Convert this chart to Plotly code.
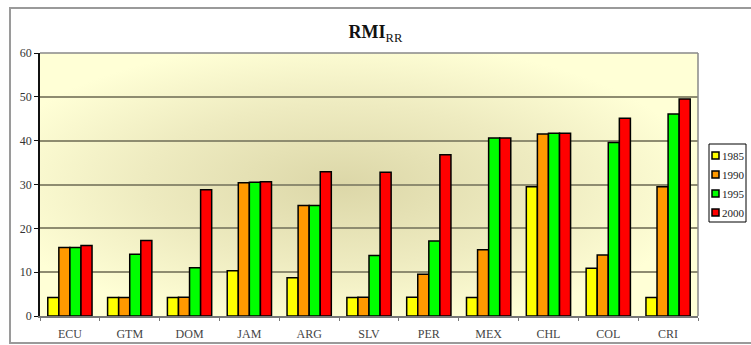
import base64
import plotly.graph_objects as go

# Country codes along the category axis
countries = ["ECU", "GTM", "DOM", "JAM", "ARG", "SLV", "PER", "MEX", "CHL", "COL", "CRI"]

# RMI_RR index by year
rmi_1985 = [4.2, 4.2, 4.2, 10.3, 8.7, 4.2, 4.3, 4.2, 29.5, 10.9, 4.2]
rmi_1990 = [15.6, 4.2, 4.3, 30.4, 25.2, 4.3, 9.5, 15.1, 41.5, 13.9, 29.5]
rmi_1995 = [15.6, 14.1, 11.0, 30.5, 25.2, 13.8, 17.1, 40.6, 41.7, 39.6, 46.1]
rmi_2000 = [16.1, 17.2, 28.8, 30.6, 32.9, 32.8, 36.8, 40.6, 41.7, 45.1, 49.5]

years = ["1985", "1990", "1995", "2000"]
colors = ["#FFFF00", "#FF9900", "#00FF00", "#FF0000"]
series = [rmi_1985, rmi_1990, rmi_1995, rmi_2000]

y_ticks = [0, 10, 20, 30, 40, 50, 60]

serif = "Liberation Serif, Times New Roman, serif"

W, H = 751, 345
L, R, T, B = 40, 53, 53, 29
PW, PH = W - L - R, H - T - B


def px(x):
    """Pixel column -> paper x."""
    return (x - L) / PW


def py(y):
    """Pixel row -> paper y."""
    return (H - B - y) / PH


fig = go.Figure()
for name, vals, col in zip(years, series, colors):
    fig.add_trace(go.Bar(
        x=countries, y=vals, name=name, showlegend=False,
        marker=dict(color=col, line=dict(color="#000000", width=1.5)),
    ))

# Soft radial shading behind the plot area
svg = (
    '<svg xmlns="http://www.w3.org/2000/svg" width="658" height="263" '
    'viewBox="0 0 658 263" preserveAspectRatio="none">'
    '<defs><radialGradient id="g" cx="0.46" cy="0.5" r="0.55">'
    '<stop offset="0" stop-color="#DCD7A8"/>'
    '<stop offset="0.55" stop-color="#EEEBC0"/>'
    '<stop offset="1" stop-color="#FFFFD6"/>'
    '</radialGradient></defs>'
    '<rect width="658" height="263" fill="url(#g)"/></svg>'
)
src = "data:image/svg+xml;base64," + base64.b64encode(svg.encode()).decode()

shapes = [
    # plot area frame (top and right)
    dict(type="line", xref="paper", yref="paper", x0=0, x1=1, y0=1, y1=1,
         line=dict(color="#888888", width=1.5)),
    dict(type="line", xref="paper", yref="paper", x0=1, x1=1, y0=0, y1=1,
         line=dict(color="#888888", width=1.5)),
    # outer chart frame
    dict(type="rect", xref="paper", yref="paper",
         x0=px(10), x1=px(800), y0=py(343), y1=py(8),
         line=dict(color="#9A9A9A", width=2), layer="below"),
    # legend box
    dict(type="rect", xref="paper", yref="paper",
         x0=px(709), x1=px(746), y0=py(222), y1=py(144),
         fillcolor="#FFFFFF", line=dict(color="#000000", width=1)),
]
annotations = []

# Compact legend: swatch + year label per series
for i, (name, col) in enumerate(zip(years, colors)):
    yc = 155.5 + i * 19
    shapes.append(dict(
        type="rect", xref="paper", yref="paper",
        x0=px(712), x1=px(719), y0=py(yc + 3.5), y1=py(yc - 3.5),
        fillcolor=col, line=dict(color="#000000", width=1.5),
    ))
    annotations.append(dict(
        text=name, xref="paper", yref="paper", x=px(720), y=py(yc),
        xanchor="left", yanchor="middle", showarrow=False,
        font=dict(family=serif, size=11, color="#222222"),
    ))

fig.update_layout(
    width=W, height=H,
    margin=dict(l=L, r=R, t=T, b=B, autoexpand=False),
    paper_bgcolor="#FFFFFF",
    plot_bgcolor="rgba(0,0,0,0)",
    barmode="group",
    bargap=0.26,
    bargroupgap=0.0,
    showlegend=False,
    font=dict(family=serif, color="#333333", size=12),
    title=dict(
        text="<b>RMI</b><sub>RR</sub>",
        x=0.5, xref="container", xanchor="center",
        y=1 - 32 / H, yref="container", yanchor="middle",
        font=dict(family=serif, size=18, color="#111111"),
    ),
    images=[dict(
        source=src, xref="paper", yref="paper", x=0, y=1,
        sizex=1, sizey=1, sizing="stretch", layer="below",
    )],
    xaxis=dict(
        showgrid=False, showline=True, linecolor="#777777", linewidth=1.5,
        ticks="outside", ticklen=3, tickcolor="#777777", tickson="boundaries",
        ticklabelstandoff=6, automargin=False,
        tickfont=dict(family=serif, size=12, color="#444444"),
    ),
    yaxis=dict(
        range=[0, 60], tickvals=y_ticks, showgrid=True,
        gridcolor="#8E8C70", gridwidth=1.5,
        showline=True, linecolor="#111111", linewidth=1.5,
        ticks="outside", ticklen=4, tickcolor="#111111", automargin=False,
        tickfont=dict(family=serif, size=12, color="#333333"),
        zeroline=False,
    ),
    shapes=shapes,
    annotations=annotations,
)

fig.write_html("out.html")
